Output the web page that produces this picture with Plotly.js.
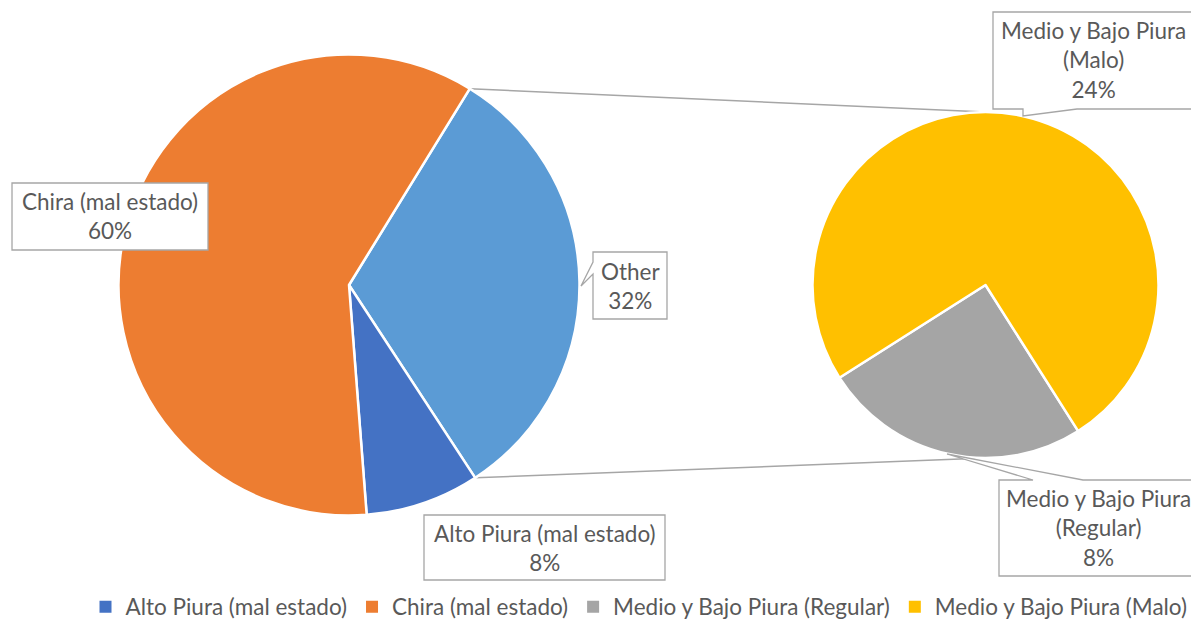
<!DOCTYPE html>
<html><head><meta charset="utf-8">
<script src="https://cdn.plot.ly/plotly-3.0.1.min.js"></script>
<style>html,body{margin:0;padding:0;background:#fff;overflow:hidden}</style>
</head><body><div id="chart" style="width:1191px;height:620px"></div>
<script>
// ---- data ----
const mainLabels = ["Other", "Alto Piura (mal estado)", "Chira (mal estado)"];
const mainValues = [32, 8, 60];
const mainColors = ["#5B9BD5", "#4472C4", "#ED7D31"];
const subLabels = ["Medio y Bajo Piura (Regular)", "Medio y Bajo Piura (Malo)"];
const subValues = [8, 24];
const subColors = ["#A5A5A5", "#FFC000"];
const legendLabels = ["Alto Piura (mal estado)", "Chira (mal estado)", "Medio y Bajo Piura (Regular)", "Medio y Bajo Piura (Malo)"];
const legendColors = ["#4472C4", "#ED7D31", "#A5A5A5", "#FFC000"];

// ---- layout helpers ----
const W = 1191, H = 620;
const FONT = "Lato, 'Open Sans', sans-serif";
const FS = 22.5;
const TXT = "#595959";
const px = x => x / W, py = y => 1 - y / H;
const MAIN = {cx: 349, cy: 285, r: 230.5, rot: 31.6};
const SUB = {cx: 985.5, cy: 285, r: 173, rot: 147.6};
const total = mainValues.reduce((a, b) => a + b, 0);
const pct = v => Math.round(v / total * 100) + "%";
function dom(p) {
  return {x: [px(p.cx - p.r), px(p.cx + p.r)], y: [py(p.cy + p.r), py(p.cy - p.r)]};
}
function pt(p, angDeg) {
  const a = angDeg * Math.PI / 180;
  return [p.cx + p.r * Math.sin(a), p.cy - p.r * Math.cos(a)];
}

const traces = [
  {type: "pie", labels: mainLabels, values: mainValues, sort: false, direction: "clockwise",
   rotation: MAIN.rot, textinfo: "none", hoverinfo: "label+percent", showlegend: false,
   marker: {colors: mainColors, line: {color: "#ffffff", width: 2.5}}, domain: dom(MAIN)},
  {type: "pie", labels: subLabels, values: subValues, sort: false, direction: "clockwise",
   rotation: SUB.rot, textinfo: "none", hoverinfo: "label+value", showlegend: false,
   marker: {colors: subColors, line: {color: "#ffffff", width: 2.5}}, domain: dom(SUB)}
];
legendLabels.forEach((l, i) => traces.push({
  type: "scatter", mode: "markers", x: [null], y: [null], name: l, showlegend: true,
  marker: {symbol: "square", size: 8, color: legendColors[i]}, hoverinfo: "skip"
}));

// connectors from the "Other" slice edges to the secondary pie
const otherSpan = mainValues[0] / total * 360;
const c1a = pt(MAIN, MAIN.rot), c1b = pt(SUB, 0);
const c2a = pt(MAIN, MAIN.rot + otherSpan), c2b = pt(SUB, 180);
const shapes = [
  {type: "line", xref: "paper", yref: "paper", x0: px(c1a[0]), y0: py(c1a[1]), x1: px(c1b[0]), y1: py(c1b[1]), line: {color: "#A6A6A6", width: 1.5}, layer: "below"},
  {type: "line", xref: "paper", yref: "paper", x0: px(c2a[0]), y0: py(c2a[1]), x1: px(c2b[0]), y1: py(c2b[1]), line: {color: "#A6A6A6", width: 1.5}, layer: "below"}
];

function callout(text, x0, y0, x1, y1, tail) {
  let d;
  const P = (x, y) => px(x).toFixed(5) + "," + py(y).toFixed(5);
  if (!tail) d = `M${P(x0,y0)}L${P(x1,y0)}L${P(x1,y1)}L${P(x0,y1)}Z`;
  else if (tail[0] === "left") d = `M${P(x0,y0)}L${P(x1,y0)}L${P(x1,y1)}L${P(x0,y1)}L${P(x0,tail[2])}L${P(tail[3],tail[4])}L${P(x0,tail[1])}Z`;
  else if (tail[0] === "bottom") d = `M${P(x0,y0)}L${P(x1,y0)}L${P(x1,y1)}L${P(tail[2],y1)}L${P(tail[3],tail[4])}L${P(tail[1],y1)}L${P(x0,y1)}Z`;
  else if (tail[0] === "top") d = `M${P(x0,y0)}L${P(tail[1],y0)}L${P(tail[3],tail[4])}L${P(tail[2],y0)}L${P(x1,y0)}L${P(x1,y1)}L${P(x0,y1)}Z`;
  shapes.push({type: "path", xref: "paper", yref: "paper", path: d, fillcolor: "#ffffff",
               line: {color: "#A6A6A6", width: 1.3}, layer: "above"});
  return {xref: "paper", yref: "paper", x: px((x0 + x1) / 2), y: py((y0 + y1) / 2),
          xanchor: "center", yanchor: "middle", showarrow: false, text: text,
          font: {family: FONT, size: FS, color: TXT}, align: "center"};
}
const wrap = l => l.replace(" (", "<br>(");
const annotations = [
  callout(mainLabels[2] + "<br>" + pct(mainValues[2]), 12, 183, 208, 250),
  callout(mainLabels[0] + "<br>" + pct(mainValues[0]), 593, 252, 667, 319, ["left", 262, 274, 581, 286]),
  callout(mainLabels[1] + "<br>" + pct(mainValues[1]), 424, 515, 665, 580),
  callout(wrap(subLabels[1]) + "<br>" + pct(subValues[1]), 993, 12, 1194, 109, ["bottom", 1023, 1077, 1023, 116]),
  callout(wrap(subLabels[0]) + "<br>" + pct(subValues[0]), 999, 480, 1198, 576, ["top", 1033, 1083, 947, 454])
];

const layout = {
  width: W, height: H, margin: {l: 0, r: 0, t: 0, b: 0, autoexpand: false},
  paper_bgcolor: "#ffffff", plot_bgcolor: "#ffffff",
  xaxis: {visible: false, domain: [0, 0.01]}, yaxis: {visible: false, domain: [0, 0.01]},
  showlegend: true,
  legend: {orientation: "h", x: px(639), xanchor: "center", y: py(607), yanchor: "middle",
           font: {family: FONT, size: FS, color: TXT}, itemsizing: "constant",
           bgcolor: "rgba(0,0,0,0)", tracegroupgap: 0, itemwidth: 30},
  shapes: shapes, annotations: annotations,
  font: {family: FONT, color: TXT}
};
Plotly.newPlot("chart", traces, layout, {displayModeBar: false, staticPlot: true});
</script>
</body></html>
